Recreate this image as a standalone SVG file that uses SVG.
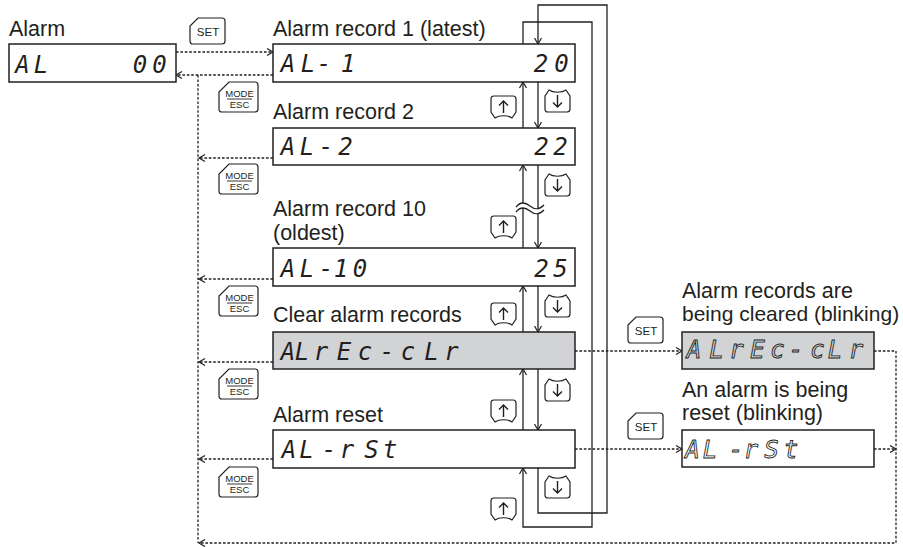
<svg xmlns="http://www.w3.org/2000/svg" xmlns:xlink="http://www.w3.org/1999/xlink" width="903" height="547" viewBox="0 0 903 547">
<style>
.box{fill:#fff;stroke:#231f20;stroke-width:1.5}
.gbox{fill:#d2d3d5;stroke:#231f20;stroke-width:1.5}
.lbl{font-family:"Liberation Sans",Arial,sans-serif;font-size:21.5px;fill:#231f20}
.seg{font-family:"DejaVu Sans Mono","Liberation Mono",monospace;font-size:24px;font-style:italic;fill:#231f20;text-anchor:middle}
.oseg{font-family:"DejaVu Sans Mono","Liberation Mono",monospace;font-size:24px;font-style:italic;stroke:#231f20;stroke-width:0.9;text-anchor:middle}
.ln{fill:none;stroke:#231f20;stroke-width:1.3}
.dt{fill:none;stroke:#231f20;stroke-width:1.3;stroke-dasharray:2.6 1.8}
.key{fill:#fff;stroke:#231f20;stroke-width:1.2}
.kt{font-family:"Liberation Sans",Arial,sans-serif;fill:#231f20;text-anchor:middle}
</style>
<defs>
<marker id="ah" viewBox="-8 -5 10 10" refX="0" refY="0" markerWidth="10" markerHeight="10" markerUnits="userSpaceOnUse" orient="auto">
<path d="M-6,-3.5 L0,0 L-6,3.5" fill="none" stroke="#231f20" stroke-width="1.2"/>
</marker>
<g id="kSet">
<path class="key" d="M8,0 H32 Q35,0 35,3 V23 Q35,26 32,26 H3 Q0,26 0,23 V8 Z"/>
<text class="kt" x="18" y="18" font-size="11.5">SET</text>
</g>
<g id="kMode">
<path class="key" d="M10,0 H36 Q39,0 39,3 V27 Q39,30 36,30 H3 Q0,30 0,27 V10 Z"/>
<text class="kt" x="20.5" y="14.5" font-size="9.5">MODE</text>
<line x1="8" y1="17" x2="33" y2="17" stroke="#231f20" stroke-width="0.9"/>
<text class="kt" x="20.5" y="26" font-size="9.5">ESC</text>
</g>
<g id="kUp">
<path class="key" d="M3,0 H22 Q25,0 25,3 V16 L21,22 C17,19 8,19 4,22 L0,16 V3 Q0,0 3,0 Z"/>
<path d="M12.5,17 V5 M8,9.5 L12.5,5 L17,9.5" fill="none" stroke="#231f20" stroke-width="1.4"/>
</g>
<g id="kDown">
<path class="key" d="M4,1 C8,4 17,4 21,1 L25,7 V20 Q25,23 22,23 H3 Q0,23 0,20 V7 Z"/>
<path d="M12.5,6 V18 M8,13.5 L12.5,18 L17,13.5" fill="none" stroke="#231f20" stroke-width="1.4"/>
</g>
</defs>
<rect width="903" height="547" fill="#fff"/>

<g id="connectors">
<path class="ln" d="M523,128 V82" marker-end="url(#ah)"/>
<path class="ln" d="M523,248 V165" marker-end="url(#ah)"/>
<path class="ln" d="M523,332 V286" marker-end="url(#ah)"/>
<path class="ln" d="M523,430 V369" marker-end="url(#ah)"/>
<path class="ln" d="M523,44 V22 H592 V527 H523 V468" marker-end="url(#ah)"/>
<path class="ln" d="M538,82 V128" marker-end="url(#ah)"/>
<path class="ln" d="M538,165 V248" marker-end="url(#ah)"/>
<path class="ln" d="M538,286 V332" marker-end="url(#ah)"/>
<path class="ln" d="M538,369 V430" marker-end="url(#ah)"/>
<path class="ln" d="M538,468 V513 H607 V5 H538 V44" marker-end="url(#ah)"/>
<path d="M516,207 C520,202 525,202 530,206 C535,210 539,210 544,205 L544,210 C539,215 535,215 530,211 C525,207 520,207 516,212 Z" fill="#fff"/>
<path class="ln" d="M516,207 C520,202 525,202 530,206 C535,210 539,210 544,205"/>
<path class="ln" d="M516,212 C520,207 525,207 530,211 C535,215 539,215 544,210"/>
<path class="dt" d="M176,52 H273" marker-end="url(#ah)"/>
<path class="dt" d="M273,75 H176" marker-end="url(#ah)"/>
<path class="dt" d="M198,75 V543"/>
<path class="dt" d="M273,158 H199" marker-end="url(#ah)"/>
<path class="dt" d="M273,279 H199" marker-end="url(#ah)"/>
<path class="dt" d="M273,362 H199" marker-end="url(#ah)"/>
<path class="dt" d="M273,459 H199" marker-end="url(#ah)"/>
<path class="dt" d="M575,351 H682" marker-end="url(#ah)"/>
<path class="dt" d="M874,351 H896 V543 H199" marker-end="url(#ah)"/>
<path class="dt" d="M575,449 H682" marker-end="url(#ah)"/>
<path class="dt" d="M874,449 H896" marker-end="url(#ah)"/>
</g>

<g id="keys">
<use xlink:href="#kSet" x="190" y="18"/>
<use xlink:href="#kSet" x="628" y="317"/>
<use xlink:href="#kSet" x="628" y="413"/>
<use xlink:href="#kMode" x="219" y="82"/>
<use xlink:href="#kMode" x="219" y="164"/>
<use xlink:href="#kMode" x="219" y="286"/>
<use xlink:href="#kMode" x="219" y="369"/>
<use xlink:href="#kMode" x="219" y="467"/>
<use xlink:href="#kUp" x="491" y="96"/>
<use xlink:href="#kUp" x="491" y="216"/>
<use xlink:href="#kUp" x="491" y="303"/>
<use xlink:href="#kUp" x="491" y="400"/>
<use xlink:href="#kUp" x="491" y="498"/>
<use xlink:href="#kDown" x="545" y="89"/>
<use xlink:href="#kDown" x="545" y="173"/>
<use xlink:href="#kDown" x="545" y="294"/>
<use xlink:href="#kDown" x="545" y="378"/>
<use xlink:href="#kDown" x="545" y="475"/>
</g>

<g id="alarm">
<text class="lbl" x="9" y="36">Alarm</text>
<rect class="box" x="9" y="44" width="167" height="38"/>
<text class="seg" x="22.5 41" y="73">AL</text>
<text class="seg" x="140 159.5" y="73">00</text>
</g>

<g id="record1">
<text class="lbl" x="273" y="36">Alarm record 1 (latest)</text>
<rect class="box" x="273" y="44" width="302" height="38"/>
<text class="seg" x="288 308 324 348" y="72">AL-1</text>
<text class="seg" x="541 561.5" y="72">20</text>
</g>

<g id="record2">
<text class="lbl" x="273" y="119">Alarm record 2</text>
<rect class="box" x="273" y="128" width="302" height="37"/>
<text class="seg" x="288 307 326 345.5" y="155">AL-2</text>
<text class="seg" x="541.5 560.5" y="155">22</text>
</g>

<g id="record10">
<text class="lbl" x="273" y="216">Alarm record 10</text>
<text class="lbl" x="273" y="240">(oldest)</text>
<rect class="box" x="273" y="248" width="302" height="38"/>
<text class="seg" x="288 307 326 341 360" y="277">AL-10</text>
<text class="seg" x="541.5 560.5" y="277">25</text>
</g>

<g id="clear">
<text class="lbl" x="273" y="322">Clear alarm records</text>
<rect class="gbox" x="273" y="332" width="302" height="37"/>
<text class="seg" x="288 302 321 344 365 387 408 431.5 451.5" y="360">ALrEc-cLr</text>
</g>

<g id="reset">
<text class="lbl" x="273" y="422">Alarm reset</text>
<rect class="box" x="273" y="430" width="302" height="38"/>
<text class="seg" x="289 306.5 329 347 371.5 390" y="458">AL-rSt</text>
</g>

<g id="clearing">
<text class="lbl" x="682" y="298">Alarm records are</text>
<text class="lbl" x="682" y="321" style="font-size:21px">being cleared (blinking)</text>
<rect class="gbox" x="682" y="332" width="192" height="37"/>
<g opacity="0.99"><text class="oseg" fill="#d2d3d5" x="694 716.5 736.5 757.5 777.5 796 817.5 835 856" y="358">ALrEc-cLr</text></g>
</g>

<g id="resetting">
<text class="lbl" x="682" y="397">An alarm is being</text>
<text class="lbl" x="682" y="420">reset (blinking)</text>
<rect class="box" x="682" y="430" width="192" height="37"/>
<g opacity="0.99"><text class="oseg" fill="#fff" x="692.5 710 736 751 771.5 791" y="458">AL-rSt</text></g>
</g>
</svg>
